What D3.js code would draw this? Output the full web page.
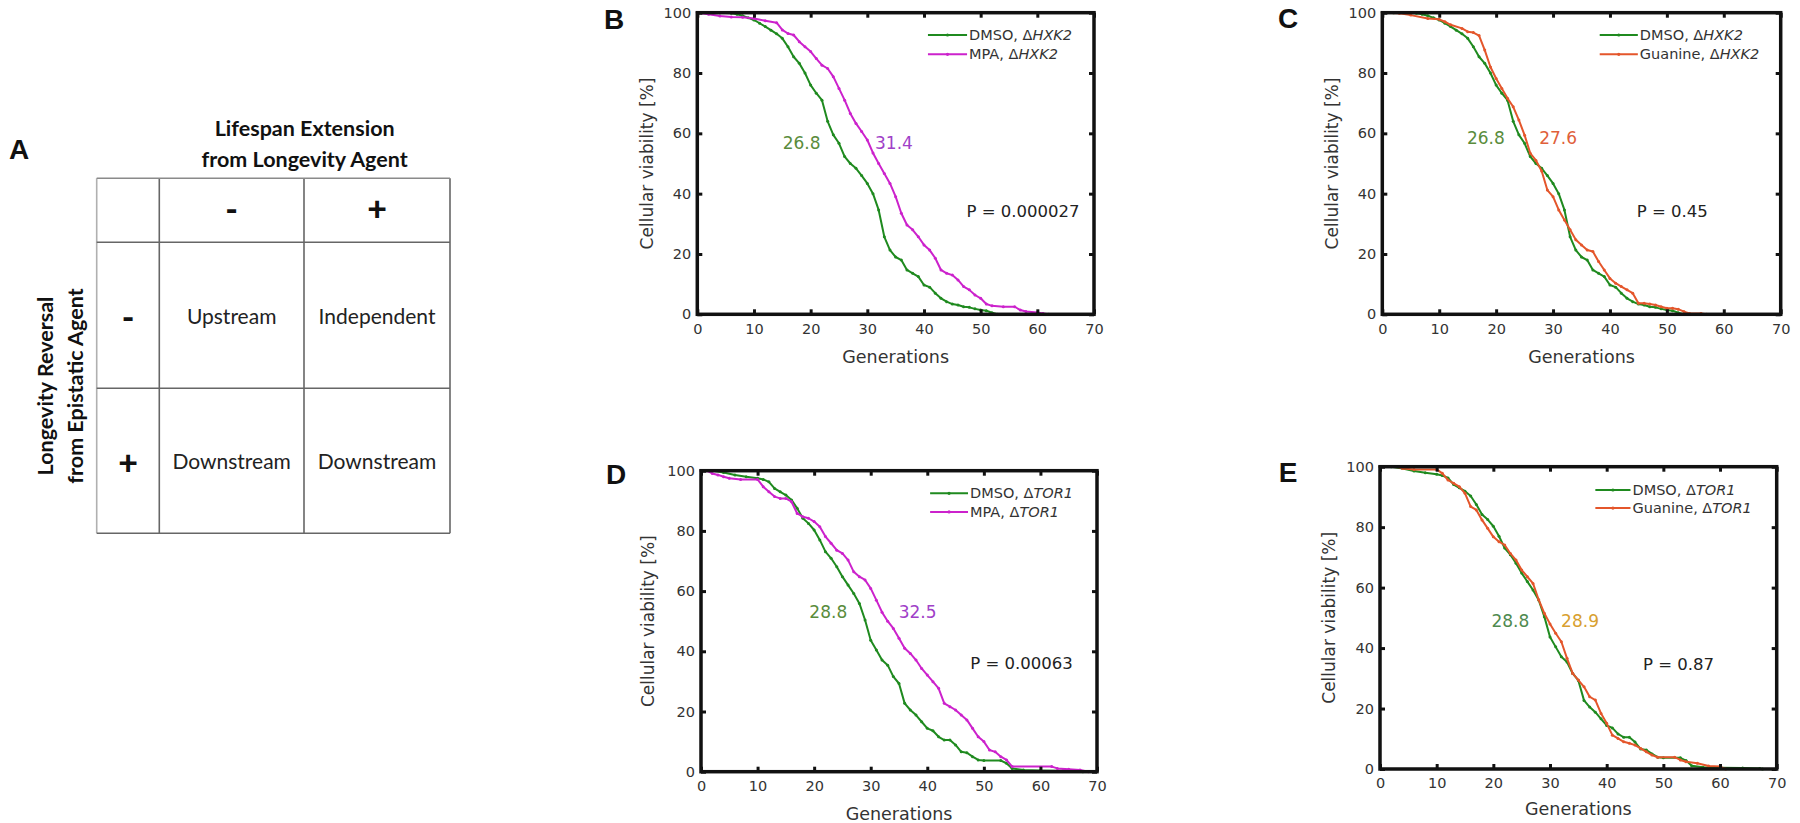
<!DOCTYPE html>
<html><head><meta charset="utf-8">
<script src="https://cdn.jsdelivr.net/npm/d3@7"></script>
<style>body{margin:0;background:#fff;} svg{display:block;}</style>
</head><body><svg id="fig" width="1800" height="823"></svg>
<script>
// ---------------- DATA ----------------
const genTicks = [0, 10, 20, 30, 40, 50, 60, 70];
const viaTicks = [0, 20, 40, 60, 80, 100];

// DMSO, ΔHXK2 (panels B and C)
const hxk2DmsoGen = [0,2,4,6,7,8,9,10,11,12,13,14,15,16,17,18,19,20,21,22,23,24,25,26,27,28,29,30,31,32,33,34,35,36,37,38,39,40,41,42,43,44,45,46,47,48,49,50,51,52,53];
const hxk2DmsoVia = [100,100,100,99.8,99.5,99,98.3,97.6,96.5,95.4,94.2,93,91.5,88.7,85.4,83.2,80,76,73.3,71,64,59.5,56.7,52.3,50,48.4,46,43.4,40,34.6,25.7,21.3,19,18,14.7,13.6,12.5,9.7,9,7,5.3,4.2,3.4,3.1,2.5,2.3,1.8,1.4,1.2,0.5,0];
// MPA, ΔHXK2 (panel B)
const hxk2MpaGen = [0,2,4,6,8,10,12,14,15,16,17,18,19,20,21,22,23,24,25,26,27,28,29,30,31,32,33,34,35,36,37,38,39,40,41,42,43,44,45,46,47,48,49,50,51,52,54,56,57,58,60,61,62];
const hxk2MpaVia = [100,99.5,98.9,98.6,98.5,98.1,97.3,96.7,94.3,93.1,92.6,90.4,88.7,87.1,84.8,82.6,81.5,78.8,74.9,71,66.6,63.3,60.6,57.8,53.5,50,46.7,43.4,39,33.5,29.6,28,25.7,23,21.3,18.6,14.7,13.6,13,11.4,9.2,8.1,6.4,5.3,3.4,2.8,2.5,2.5,1.4,0.9,0.6,0.3,0];
// Guanine, ΔHXK2 (panel C)
const hxk2GuaGen = [0,3,5,8,10,11,12,14,15,16,17,18,19,20,21,22,23,24,25,26,27,28,29,30,31,32,33,34,35,36,37,38,39,40,41,42,43,44,45,46,47,48,49,50,51,52,53,54,56,57];
const hxk2GuaVia = [100,99.8,99.2,98.1,97.8,97,96,94.8,93.7,93.4,92.4,87.6,82,78.2,74.9,71.6,68.8,64.4,59.4,53.4,51,47.5,41.2,39,34.6,31.3,28,24.7,23,21.3,20.8,17.5,14.7,11.9,10.3,9.2,8.1,7,3.7,3.7,3.4,3.1,2.5,2,2,1.7,0.9,0.3,0.3,0];
// DMSO, ΔTOR1 (panels D and E)
const tor1DmsoGen = [0,2,4,6,8,10,11,12,13,14,15,16,17,18,19,20,21,22,23,24,25,26,27,28,29,30,31,32,33,34,35,36,37,38,39,40,41,42,43,44,45,46,47,48,49,50,53,54,55,57,60,64,67,67.5];
const tor1DmsoVia = [100,100,99.4,98.6,98,97.5,97.1,96.3,94.1,93,91.9,90.3,87.5,84.2,82.5,80.3,77,73.1,70.9,68.1,64.8,62,59.2,55.9,50.4,43.7,40.4,37.1,35.4,31.6,29.3,22.7,20.5,18.8,16.6,14.4,13.6,11.6,10.5,10.5,8.9,6.6,6.3,5,3.9,3.7,3.7,2.8,1.1,0.55,0.4,0.3,0.2,0];
// MPA, ΔTOR1 (panel D)
const tor1MpaGen = [0,1,2,3,4,5,7,10,11,12,13,14,15,16,17,18,19,20,21,22,23,24,25,26,27,28,29,30,31,32,33,34,35,36,37,38,39,40,41,42,43,44,45,46,47,48,49,50,51,52,53,54,55,62,63,65,67,68.5];
const tor1MpaVia = [100,100,99.1,98.6,98,97.5,97.1,97.1,94.7,93,91.4,90.8,90.8,89.7,85.8,84.7,84.2,83.1,81.4,78.1,75.9,73.6,72.5,70.3,66.4,64.8,63.7,60.9,57,53,50,47.6,44.3,41,39.3,37.1,34.3,32.1,29.9,27.7,22.7,21.6,20.5,18.8,17.2,14.4,11.6,10,7.2,6.6,5,3.9,1.7,1.7,1.1,0.8,0.55,0];
// Guanine, ΔTOR1 (panel E)
const tor1GuaGen = [0,3,4,6,10,11,12,13,14,15,16,17,18,19,20,21,22,23,24,25,26,27,28,29,30,31,32,33,34,35,36,37,38,39,40,41,42,43,44,45,46,47,48,49,52,53,54,56,58,60,61];
const tor1GuaVia = [100,100,99.4,99.1,99.1,97.8,95.6,94.5,93.4,91.2,86.8,85.7,82.4,79.6,76.8,75.2,74.1,71.3,69.1,65.8,63.6,61.4,56,51.5,48,44.9,42.1,36.6,31.6,29.4,27.2,23.9,22.8,18.4,15.1,11.2,10.1,9,8.5,7.9,6.8,5.7,4.6,3.9,3.9,3,2.4,1.9,1,0.8,0];

// text content
const panelLetters = ["A", "B", "C", "D", "E"];
const seriesNames = ["DMSO, Δ", "MPA, Δ", "Guanine, Δ"];
const geneNames = ["HXK2", "TOR1"];
const medianB = ["26.8", "31.4"];
const medianC = ["26.8", "27.6"];
const medianD = ["28.8", "32.5"];
const medianE = ["28.8", "28.9"];
const pValues = ["P = 0.000027", "P = 0.45", "P = 0.00063", "P = 0.87"];
const xAxisTitle = "Generations";
const yAxisTitle = "Cellular viability [%]";
const tableTitle = ["Lifespan Extension", "from Longevity Agent"];
const tableSide = ["Longevity Reversal", "from Epistatic Agent"];
const tableColHeaders = ["-", "+"];
const tableRowHeaders = ["-", "+"];
const tableCells = [["Upstream", "Independent"], ["Downstream", "Downstream"]];

// ---------------- STYLE ----------------
const GREEN = "#1f8a1f", MAG = "#cc22cc", ORANGE = "#e4562b";
const TXT = "#333";
const svg = d3.select("#fig");

// ---------------- PANEL A (table) ----------------
(function(){
  const g = svg.append("g");
  const colX = [96.7, 159.3, 304, 450];
  const rowY = [178.3, 242.3, 388.3, 533.3];
  const F = "Lato, 'Open Sans', sans-serif";
  g.append("text").attr("x", 19).attr("y", 159).attr("text-anchor", "middle")
    .attr("font-family", "'Liberation Sans', Arial, sans-serif").attr("font-weight", "bold")
    .attr("font-size", 28).attr("fill", "#111").text(panelLetters[0]);
  const cx = (colX[1] + colX[3]) / 2;
  tableTitle.forEach((t, i) => {
    g.append("text").attr("x", cx + 0).attr("y", 136 + i * 30.7).attr("text-anchor", "middle")
      .attr("font-family", F).attr("font-weight", "bold").attr("font-size", 21.5).attr("fill", "#111").text(t);
  });
  tableSide.forEach((t, i) => {
    const bx = 53.3 + i * 30, by = 386;
    g.append("text").attr("transform", `translate(${bx},${by}) rotate(-90)`).attr("text-anchor", "middle")
      .attr("font-family", F).attr("font-weight", "bold").attr("font-size", 21.5).attr("fill", "#111").text(t);
  });
  // grid lines
  colX.forEach((x, i) => {
    g.append("line").attr("x1", x).attr("x2", x).attr("y1", rowY[0]).attr("y2", rowY[3])
      .attr("stroke", i === 0 ? "#b0b0b0" : "#666").attr("stroke-width", 1.6);
  });
  rowY.forEach((y, i) => {
    g.append("line").attr("x1", colX[0]).attr("x2", colX[3]).attr("y1", y).attr("y2", y)
      .attr("stroke", i === 0 ? "#8a8a8a" : "#666").attr("stroke-width", 1.6);
  });
  const colC = [0, 1].map(i => (colX[i + 1] + colX[i + 2]) / 2);
  const rowC = [0, 1].map(i => (rowY[i + 1] + rowY[i + 2]) / 2);
  const hdrY = (rowY[0] + rowY[1]) / 2, hdrX = (colX[0] + colX[1]) / 2;
  tableColHeaders.forEach((t, i) => {
    g.append("text").attr("x", colC[i]).attr("y", hdrY + 11).attr("text-anchor", "middle")
      .attr("font-family", F).attr("font-weight", "900").attr("font-size", 34).attr("fill", "#111").text(t);
  });
  tableRowHeaders.forEach((t, i) => {
    g.append("text").attr("x", hdrX).attr("y", rowC[i] + 11 + 3).attr("text-anchor", "middle")
      .attr("font-family", F).attr("font-weight", "900").attr("font-size", 34).attr("fill", "#111").text(t);
  });
  tableCells.forEach((row, r) => row.forEach((t, c) => {
    g.append("text").attr("x", colC[c]).attr("y", rowC[r] + 8.5).attr("text-anchor", "middle")
      .attr("font-family", F).attr("font-size", 21).attr("fill", "#222").text(t);
  }));
})();

// ---------------- SURVIVAL PANELS ----------------
const NUMF = "'DejaVu Sans', Verdana, sans-serif";
const panels = [
  { letter: panelLetters[1], lx: 614, ly: 29, x0: 697.3, x1: 1094, y0: 12.7, y1: 314.3,
    series: [{gen: hxk2DmsoGen, via: hxk2DmsoVia, color: GREEN, name: seriesNames[0], gene: geneNames[0]},
             {gen: hxk2MpaGen, via: hxk2MpaVia, color: MAG, name: seriesNames[1], gene: geneNames[0]}],
    med: medianB, medColors: ["#5a8c3c", "#a040c8"], medPos: [[18.4, 56.9], [34.7, 56.9]],
    p: pValues[0], pPos: [47.5, 34.2], leg: [40.7, 47.6, 92.6, 86.2], ylx: 646.7, xly: 356.7 },
  { letter: panelLetters[2], lx: 1288, ly: 28, x0: 1382.3, x1: 1780.7, y0: 12.7, y1: 314.3,
    series: [{gen: hxk2DmsoGen, via: hxk2DmsoVia, color: GREEN, name: seriesNames[0], gene: geneNames[0]},
             {gen: hxk2GuaGen, via: hxk2GuaVia, color: ORANGE, name: seriesNames[2], gene: geneNames[0]}],
    med: medianC, medColors: ["#5a8c3c", "#e0603a"], medPos: [[18.2, 58.4], [30.9, 58.4]],
    p: pValues[1], pPos: [44.7, 34.2], leg: [38.2, 44.9, 92.6, 86.2], ylx: 1331.7, xly: 356.7 },
  { letter: panelLetters[3], lx: 616, ly: 484, x0: 701, x1: 1097, y0: 470.7, y1: 771.7,
    series: [{gen: tor1DmsoGen, via: tor1DmsoVia, color: GREEN, name: seriesNames[0], gene: geneNames[1]},
             {gen: tor1MpaGen, via: tor1MpaVia, color: MAG, name: seriesNames[1], gene: geneNames[1]}],
    med: medianD, medColors: ["#5a8c3c", "#a040c8"], medPos: [[22.5, 53.2], [38.3, 53.2]],
    p: pValues[2], pPos: [47.6, 36.2], leg: [40.5, 47.2, 92.5, 86.3], ylx: 648.3, xly: 814.3 },
  { letter: panelLetters[4], lx: 1288, ly: 482, x0: 1380, x1: 1776.7, y0: 466.7, y1: 769,
    series: [{gen: tor1DmsoGen, via: tor1DmsoVia, color: GREEN, name: seriesNames[0], gene: geneNames[1]},
             {gen: tor1GuaGen, via: tor1GuaVia, color: ORANGE, name: seriesNames[2], gene: geneNames[1]}],
    med: medianE, medColors: ["#4f8a4f", "#d8a030"], medPos: [[23, 49], [35.3, 49]],
    p: pValues[3], pPos: [46.4, 34.6], leg: [38, 44.2, 92.3, 86.3], ylx: 1329.3, xly: 809.3 }
];

panels.forEach(P => {
  const g = svg.append("g");
  const x = d3.scaleLinear().domain([0, 70]).range([P.x0, P.x1]);
  const y = d3.scaleLinear().domain([0, 100]).range([P.y1, P.y0]);

  // panel letter
  g.append("text").attr("x", P.lx).attr("y", P.ly).attr("text-anchor", "middle")
    .attr("font-family", "'Liberation Sans', Arial, sans-serif").attr("font-weight", "bold")
    .attr("font-size", 28).attr("fill", "#111").text(P.letter);

  // curves
  const line = d3.line().x(d => x(d[0])).y(d => y(d[1]));
  P.series.forEach(s => {
    const pts = s.gen.map((gv, i) => [gv, s.via[i]]);
    g.append("path").attr("d", line(pts)).attr("fill", "none")
      .attr("stroke", s.color).attr("stroke-width", 2).attr("stroke-linejoin", "round");
    g.selectAll(null).data(pts).enter().append("circle")
      .attr("cx", d => x(d[0])).attr("cy", d => y(d[1])).attr("r", 1.5).attr("fill", s.color);
  });

  // axes (inward ticks on all four sides)
  const styleAxis = (sel) => {
    sel.select(".domain").remove();
    sel.selectAll(".tick line").attr("stroke", "#111").attr("stroke-width", 3);
    sel.selectAll(".tick text").attr("fill", TXT).attr("font-family", NUMF).attr("font-size", 14.5);
  };
  g.append("g").attr("transform", `translate(0,${P.y1})`)
    .call(d3.axisBottom(x).tickValues(genTicks).tickFormat(d3.format("d")).tickSizeInner(-5).tickSizeOuter(0).tickPadding(9))
    .call(styleAxis);
  g.append("g").attr("transform", `translate(0,${P.y0})`)
    .call(d3.axisTop(x).tickValues(genTicks).tickFormat("").tickSizeInner(-5).tickSizeOuter(0))
    .call(styleAxis);
  g.append("g").attr("transform", `translate(${P.x0},0)`)
    .call(d3.axisLeft(y).tickValues(viaTicks).tickFormat(d3.format("d")).tickSizeInner(-5).tickSizeOuter(0).tickPadding(6))
    .call(styleAxis);
  g.append("g").attr("transform", `translate(${P.x1},0)`)
    .call(d3.axisRight(y).tickValues(viaTicks).tickFormat("").tickSizeInner(-5).tickSizeOuter(0))
    .call(styleAxis);

  // frame
  g.append("rect").attr("x", P.x0).attr("y", P.y0).attr("width", P.x1 - P.x0).attr("height", P.y1 - P.y0)
    .attr("fill", "none").attr("stroke", "#111").attr("stroke-width", 3.5);

  // axis titles
  g.append("text").attr("x", (P.x0 + P.x1) / 2).attr("y", P.xly + 6).attr("text-anchor", "middle")
    .attr("font-family", NUMF).attr("font-size", 17.5).attr("fill", TXT).text(xAxisTitle);
  g.append("text").attr("transform", `translate(${P.ylx + 6},${(P.y0 + P.y1) / 2}) rotate(-90)`)
    .attr("text-anchor", "middle").attr("font-family", NUMF).attr("font-size", 17).attr("fill", TXT).text(yAxisTitle);

  // medians
  P.med.forEach((t, i) => {
    g.append("text").attr("x", x(P.medPos[i][0])).attr("y", y(P.medPos[i][1]) + 6)
      .attr("text-anchor", "middle").attr("font-family", NUMF).attr("font-size", 17)
      .attr("fill", P.medColors[i]).text(t);
  });
  // P value
  g.append("text").attr("x", x(P.pPos[0])).attr("y", y(P.pPos[1]) + 6)
    .attr("font-family", NUMF).attr("font-size", 16.5).attr("fill", "#222").text(P.p);

  // legend
  P.series.forEach((s, i) => {
    const ly = y(P.leg[2 + i]);
    g.append("line").attr("x1", x(P.leg[0])).attr("x2", x(P.leg[1])).attr("y1", ly).attr("y2", ly)
      .attr("stroke", s.color).attr("stroke-width", 2);
    g.append("circle").attr("cx", (x(P.leg[0]) + x(P.leg[1])) / 2).attr("cy", ly).attr("r", 1.6).attr("fill", s.color);
    const t = g.append("text").attr("x", x(P.leg[1]) + 2).attr("y", ly + 5)
      .attr("font-family", NUMF).attr("font-size", 14.5).attr("fill", TXT);
    t.append("tspan").text(s.name);
    t.append("tspan").attr("font-style", "italic").text(s.gene);
  });
});
</script></body></html>
